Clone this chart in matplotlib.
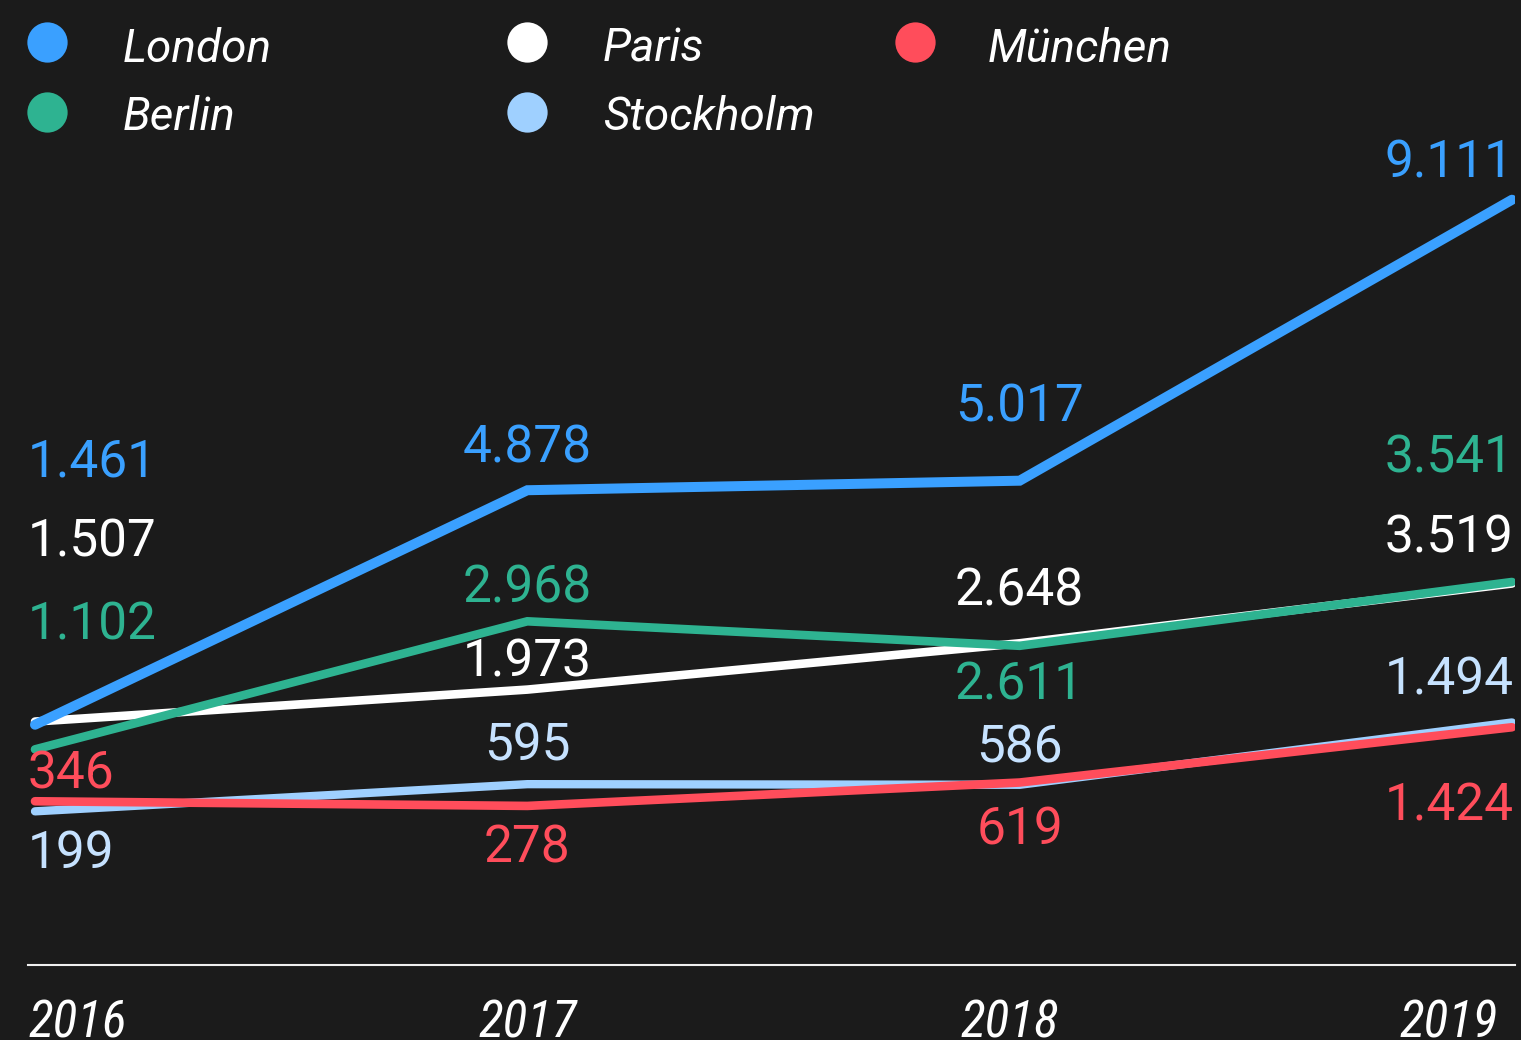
"""Apartment listings per city, 2016-2019, on a dark background."""
import matplotlib
matplotlib.use("Agg")
import matplotlib.pyplot as plt
from matplotlib import font_manager
from matplotlib.lines import Line2D

YEARS = [2016, 2017, 2018, 2019]
CITIES = ["London", "Berlin", "Paris", "Stockholm", "München"]
LONDON = [1461, 4878, 5017, 9111]
BERLIN = [1102, 2968, 2611, 3541]
PARIS = [1507, 1973, 2648, 3519]
STOCKHOLM = [199, 595, 586, 1494]
MUENCHEN = [346, 278, 619, 1424]

BG = "#1b1b1b"
W, H = 1521, 1040

# line colour, label colour, line width (pt), z-order
STYLE = {
    "London": ("#3aa0ff", "#3aa0ff", 7.2, 5),
    "Berlin": ("#2eb391", "#2eb391", 6.2, 3),
    "Paris": ("#ffffff", "#ffffff", 6.2, 1),
    "Stockholm": ("#9fd0ff", "#c6e2ff", 6.0, 2),
    "München": ("#ff4d5b", "#ff4d5b", 6.2, 4),
}
# label baseline offsets from the point, in pixels (up is positive)
LABEL_DY = {
    "London": [248, 28, 59, 22],
    "Berlin": [110, 19, -54, 109],
    "Paris": [165, 13, 38, 31],
    "Stockholm": [-57, 24, 22, 28],
    "München": [13, -57, -62, -93],
}

names = {f.name for f in font_manager.fontManager.ttflist}
if "Roboto Condensed" in names:
    year_font, year_size = "Roboto Condensed", 37
else:
    year_font, year_size = "Roboto", 31

plt.rcParams["font.family"] = ["Roboto", "DejaVu Sans"]

fig = plt.figure(figsize=(W / 100, H / 100), dpi=100, facecolor=BG)
ax = fig.add_axes([28 / W, (H - 965) / H, (1515 - 28) / W, (965 - 130) / H])
ax.set_facecolor(BG)

series = {"London": LONDON, "Berlin": BERLIN, "Paris": PARIS,
          "Stockholm": STOCKHOLM, "München": MUENCHEN}

for city in CITIES:
    values = series[city]
    color, label_color, lw, z = STYLE[city]
    ax.plot(YEARS, values, color=color, lw=lw, solid_capstyle="round",
            solid_joinstyle="miter", zorder=z)
    for i, (yr, v) in enumerate(zip(YEARS, values)):
        if i == 0:
            ha, dx = "left", -7
        elif i == len(YEARS) - 1:
            ha, dx = "right", 2
        else:
            ha, dx = "center", 0
        ax.annotate(f"{v:,}".replace(",", "."), (yr, v),
                    xytext=(dx, LABEL_DY[city][i]), textcoords="offset pixels",
                    ha=ha, va="baseline", fontsize=37, color=label_color,
                    zorder=10, annotation_clip=False)

ax.set_xlim(2016 - 7 / 492.3, 2019 + 3 / 492.3)
ax.set_ylim(-2040, 10127)
ax.set_xticks([])
ax.set_yticks([])
for side in ["left", "top", "right"]:
    ax.spines[side].set_visible(False)
ax.spines["bottom"].set_color("#f0f0f0")
ax.spines["bottom"].set_linewidth(1.5)

# year labels under the baseline
year_y = -(1038 - 965) / (965 - 130)
for i, yr in enumerate(YEARS):
    ha = "left" if i == 0 else ("right" if i == len(YEARS) - 1 else "center")
    dx = {0: -6 / 492.3, 2: -10 / 492.3, 3: -14 / 492.3}.get(i, 0)
    ax.text(yr + dx, year_y, str(yr), transform=ax.get_xaxis_transform(),
            ha=ha, va="baseline", fontsize=year_size, style="italic",
            family=[year_font, "DejaVu Sans"], color="white", clip_on=False)

# legend, two rows, filled column by column
marker_x = [47, 527, 915]
text_x = [123, 603, 988]
marker_y = [42, 112]
text_y = [62, 130]
for i, city in enumerate(CITIES):
    col, row = i // 2, i % 2
    fig.add_artist(Line2D([marker_x[col] / W], [1 - marker_y[row] / H],
                          marker="o", ms=29, mew=0, color=STYLE[city][0],
                          transform=fig.transFigure))
    fig.text(text_x[col] / W, 1 - text_y[row] / H, city, ha="left",
             va="baseline", fontsize=33, style="italic", color="white")

fig.savefig("out.png", dpi=100, facecolor=BG)
